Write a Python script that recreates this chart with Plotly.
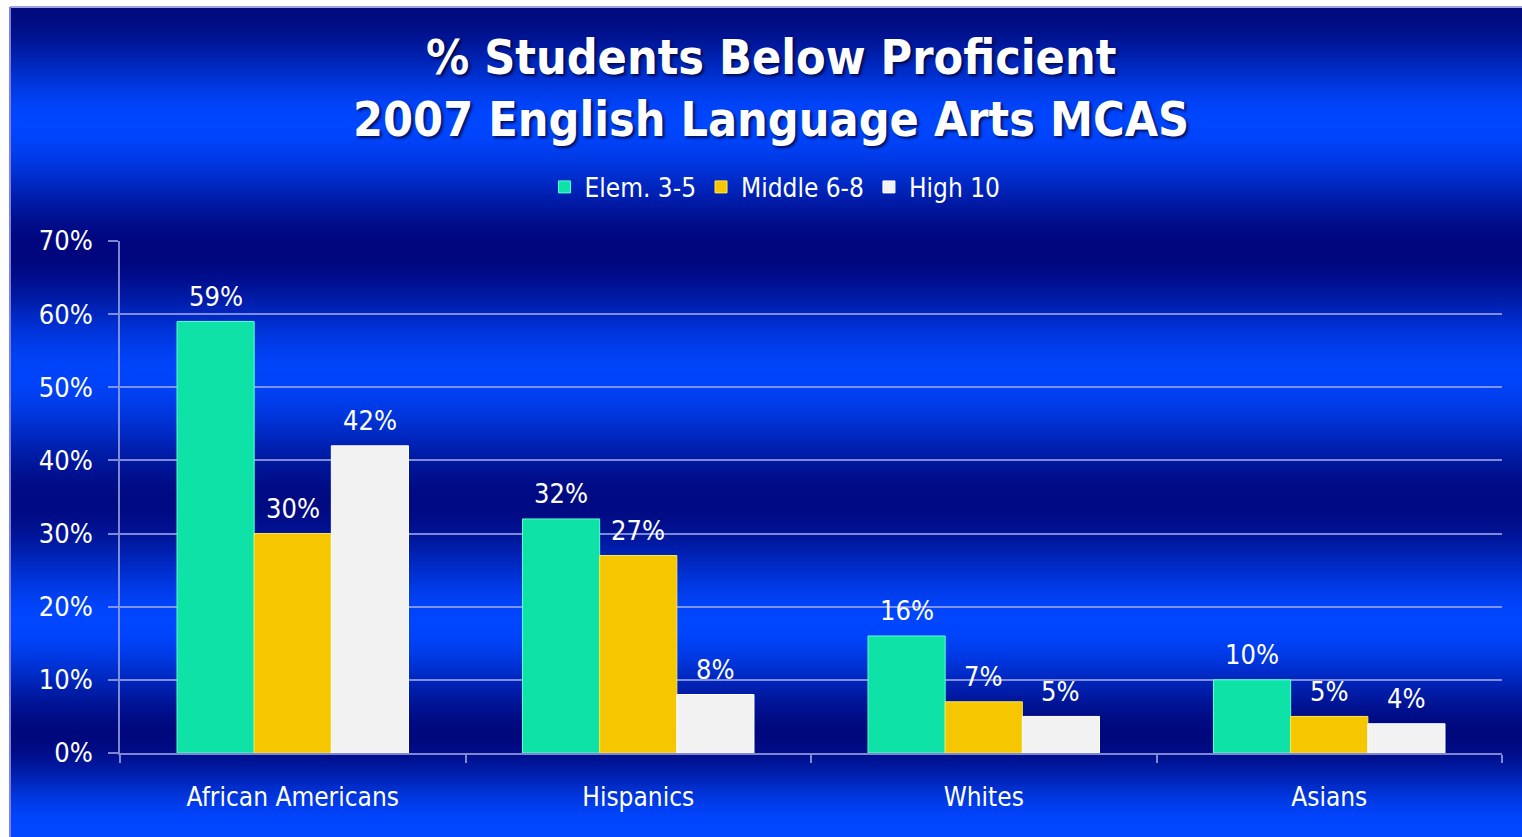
import base64, struct, zlib
import plotly.graph_objects as go

categories = ["African Americans", "Hispanics", "Whites", "Asians"]
series_names = ["Elem. 3-5", "Middle 6-8", "High 10"]
elem_values = [59, 32, 16, 10]
middle_values = [30, 27, 7, 5]
high_values = [42, 8, 5, 4]
y_tick_values = [0, 10, 20, 30, 40, 50, 60, 70]
y_tick_labels = ["0%", "10%", "20%", "30%", "40%", "50%", "60%", "70%"]

W, H = 1522, 837
ML, MR, MT, MB = 120, 20, 241, 84
PW, PH = W - ML - MR, H - MT - MB
BARGAP = 0.33

FONT = "DejaVu Sans Condensed, DejaVu Sans, sans-serif"

# ---- background gradient image (vertical bands) ----
stops = [(0, (0, 10, 125)), (115, (0, 70, 255)), (243, (0, 6, 125)), (365, (0, 68, 250)),
         (495, (0, 10, 130)), (615, (0, 70, 255)), (728, (0, 8, 125)), (820, (0, 70, 255)),
         (830, (0, 70, 255))]


def col_at(y):
    for (y0, c0), (y1, c1) in zip(stops, stops[1:]):
        if y0 <= y <= y1:
            t = (y - y0) / (y1 - y0)
            t = t * t * (3 - 2 * t)
            return tuple(int(round(a + (b - a) * t)) for a, b in zip(c0, c1))
    return stops[-1][1]


def make_png(h):
    raw = b""
    for y in range(h):
        raw += b"\x00" + bytes(col_at(y))
    def chunk(tag, data):
        return struct.pack(">I", len(data)) + tag + data + struct.pack(">I", zlib.crc32(tag + data) & 0xffffffff)
    png = b"\x89PNG\r\n\x1a\n" + chunk(b"IHDR", struct.pack(">IIBBBBB", 1, h, 8, 2, 0, 0, 0))
    png += chunk(b"IDAT", zlib.compress(raw)) + chunk(b"IEND", b"")
    return "data:image/png;base64," + base64.b64encode(png).decode()


bg_top, bg_left = 7, 10
bg_h = H - bg_top
img_src = make_png(bg_h)


def px_x(px):
    return (px - ML) / PW


def px_y(py):
    return (H - MB - py) / PH


fig = go.Figure()

all_values = [elem_values, middle_values, high_values]
colors = ["#0ee2a6", "#f6c600", "#f2f2f2"]
line_colors = ["#5ffcd0", "#ffe94a", "#ffffff"]
for name, vals, c, lc in zip(series_names, all_values, colors, line_colors):
    fig.add_trace(go.Bar(
        name=name, x=categories, y=vals,
        marker=dict(color=c, line=dict(color=lc, width=1)),
        cliponaxis=False,
    ))

# value labels above bars
bar_w = (1 - BARGAP) / len(series_names)
label_annots = []
for si, vals in enumerate(all_values):
    off = (si - (len(series_names) - 1) / 2) * bar_w
    for ci, v in enumerate(vals):
        label_annots.append(dict(
            x=ci + off, y=v, xref="x", yref="y", text=f"{v}%", showarrow=False,
            xanchor="center", yanchor="middle", yshift=25,
            font=dict(family=FONT, size=27, color="white"),
        ))

grid = "rgba(170,175,235,0.75)"
fig.update_layout(
    width=W, height=H,
    margin=dict(l=ML, r=MR, t=MT, b=MB, pad=0),
    paper_bgcolor="white", plot_bgcolor="rgba(0,0,0,0)",
    barmode="group", bargap=BARGAP, bargroupgap=0,
    font=dict(family=FONT, color="white", size=26),
    showlegend=True,
    legend=dict(orientation="h", x=px_x(775), xanchor="center", y=px_y(187), yanchor="middle",
                font=dict(family=FONT, size=26, color="white"), bgcolor="rgba(0,0,0,0)",
                itemwidth=30, traceorder="normal"),
    annotations=[dict(
        text="% Students Below Proficient<br>2007 English Language Arts MCAS",
        x=px_x(771), y=px_y(88), xref="paper", yref="paper", showarrow=False,
        xanchor="center", yanchor="middle", align="center",
        font=dict(family=FONT, size=48, color="white", weight="bold",
                  shadow="2px 2px 3px rgba(0,0,50,0.8)"),
    )] + label_annots,
    images=[dict(source=img_src, xref="paper", yref="paper",
                 x=px_x(bg_left), y=px_y(bg_top), sizex=(W - bg_left) / PW, sizey=bg_h / PH,
                 sizing="stretch", xanchor="left", yanchor="top", layer="below")],
    shapes=[
        dict(type="line", xref="paper", yref="paper", x0=px_x(bg_left), x1=px_x(W),
             y0=px_y(bg_top), y1=px_y(bg_top), line=dict(color="#a0a0e0", width=2), layer="below"),
        dict(type="line", xref="paper", yref="paper", x0=px_x(bg_left), x1=px_x(bg_left),
             y0=px_y(bg_top), y1=px_y(H), line=dict(color="#8080e0", width=2), layer="below"),
    ],
)

fig.update_yaxes(
    range=[0, 70], tickvals=y_tick_values, ticktext=y_tick_labels,
    showgrid=True, gridcolor=grid, gridwidth=1.5,
    showline=True, linecolor=grid, linewidth=1.5,
    ticks="outside", ticklen=10, tickcolor=grid, tickwidth=1.5,
    ticklabelstandoff=10,
    tickfont=dict(family=FONT, size=27, color="white"), zeroline=False,
)
fig.update_xaxes(
    showline=True, linecolor=grid, linewidth=1.5,
    ticks="outside", tickson="boundaries", ticklen=8, tickcolor=grid, tickwidth=1.5,
    ticklabelstandoff=20,
    tickfont=dict(family=FONT, size=26, color="white"), showgrid=False,
)

fig.write_html("out.html")
